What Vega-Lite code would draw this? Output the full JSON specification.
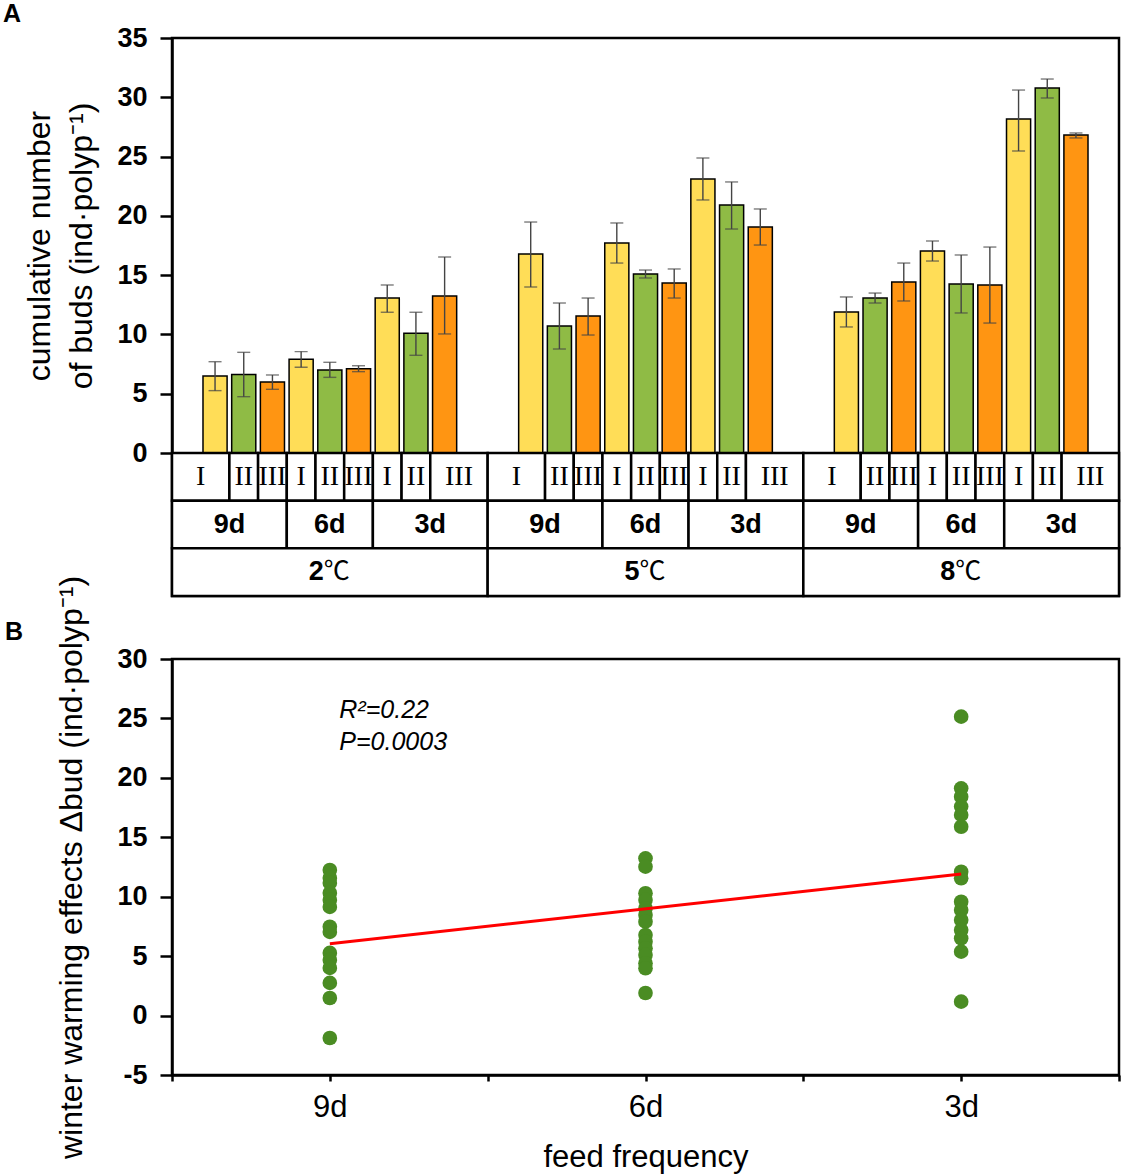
{
  "$schema": "https://vega.github.io/schema/vega-lite/v6.json",
  "background": "white",
  "padding": {"left": 1, "top": 0, "right": 0, "bottom": 0},
  "bounds": "flush",
  "spacing": 63,
  "config": {
    "view": {"stroke": "black", "strokeWidth": 2.5},
    "font": "Liberation Sans",
    "axis": {
      "grid": false,
      "domainColor": "black",
      "domainWidth": 2.5,
      "tickColor": "black",
      "tickWidth": 2.5,
      "labelColor": "black",
      "titleColor": "black",
      "labelFont": "Liberation Sans",
      "titleFont": "Liberation Sans",
      "titleFontWeight": "normal"
    },
    "title": {"font": "Liberation Sans", "color": "black"}
  },
  "datasets": {
    "bars": [
      {"bar": "2-9d-I", "level": "I", "mean": 6.49, "lo": 5.26, "hi": 7.7},
      {"bar": "2-9d-II", "level": "II", "mean": 6.61, "lo": 4.75, "hi": 8.49},
      {"bar": "2-9d-III", "level": "III", "mean": 5.99, "lo": 5.37, "hi": 6.58},
      {"bar": "2-6d-I", "level": "I", "mean": 7.9, "lo": 7.23, "hi": 8.55},
      {"bar": "2-6d-II", "level": "II", "mean": 7.0, "lo": 6.38, "hi": 7.65},
      {"bar": "2-6d-III", "level": "III", "mean": 7.11, "lo": 6.86, "hi": 7.36},
      {"bar": "2-3d-I", "level": "I", "mean": 13.07, "lo": 11.87, "hi": 14.17},
      {"bar": "2-3d-II", "level": "II", "mean": 10.09, "lo": 8.24, "hi": 11.87},
      {"bar": "2-3d-III", "level": "III", "mean": 13.24, "lo": 10.04, "hi": 16.53},
      {"bar": "5-9d-I", "level": "I", "mean": 16.78, "lo": 14.0, "hi": 19.48},
      {"bar": "5-9d-II", "level": "II", "mean": 10.71, "lo": 8.77, "hi": 12.65},
      {"bar": "5-9d-III", "level": "III", "mean": 11.55, "lo": 9.95, "hi": 13.07},
      {"bar": "5-6d-I", "level": "I", "mean": 17.71, "lo": 16.02, "hi": 19.4},
      {"bar": "5-6d-II", "level": "II", "mean": 15.1, "lo": 14.76, "hi": 15.43},
      {"bar": "5-6d-III", "level": "III", "mean": 14.34, "lo": 13.07, "hi": 15.52},
      {"bar": "5-3d-I", "level": "I", "mean": 23.1, "lo": 21.34, "hi": 24.88},
      {"bar": "5-3d-II", "level": "II", "mean": 20.92, "lo": 18.89, "hi": 22.86},
      {"bar": "5-3d-III", "level": "III", "mean": 19.06, "lo": 17.54, "hi": 20.58},
      {"bar": "8-9d-I", "level": "I", "mean": 11.89, "lo": 10.63, "hi": 13.16},
      {"bar": "8-9d-II", "level": "II", "mean": 13.07, "lo": 12.65, "hi": 13.49},
      {"bar": "8-9d-III", "level": "III", "mean": 14.42, "lo": 12.82, "hi": 16.02},
      {"bar": "8-6d-I", "level": "I", "mean": 17.04, "lo": 16.19, "hi": 17.88},
      {"bar": "8-6d-II", "level": "II", "mean": 14.25, "lo": 11.81, "hi": 16.7},
      {"bar": "8-6d-III", "level": "III", "mean": 14.17, "lo": 10.96, "hi": 17.37},
      {"bar": "8-3d-I", "level": "I", "mean": 28.17, "lo": 25.47, "hi": 30.61},
      {"bar": "8-3d-II", "level": "II", "mean": 30.78, "lo": 29.94, "hi": 31.54},
      {"bar": "8-3d-III", "level": "III", "mean": 26.82, "lo": 26.57, "hi": 26.99}
    ],
    "cells": [
      {"row": "level", "label": "I", "from": 0, "to": 2, "mid": 1},
      {"row": "level", "label": "II", "from": 2, "to": 3, "mid": 2.5},
      {"row": "level", "label": "III", "from": 3, "to": 4, "mid": 3.5},
      {"row": "level", "label": "I", "from": 4, "to": 5, "mid": 4.5},
      {"row": "level", "label": "II", "from": 5, "to": 6, "mid": 5.5},
      {"row": "level", "label": "III", "from": 6, "to": 7, "mid": 6.5},
      {"row": "level", "label": "I", "from": 7, "to": 8, "mid": 7.5},
      {"row": "level", "label": "II", "from": 8, "to": 9, "mid": 8.5},
      {"row": "level", "label": "III", "from": 9, "to": 11, "mid": 10},
      {"row": "level", "label": "I", "from": 11, "to": 13, "mid": 12},
      {"row": "level", "label": "II", "from": 13, "to": 14, "mid": 13.5},
      {"row": "level", "label": "III", "from": 14, "to": 15, "mid": 14.5},
      {"row": "level", "label": "I", "from": 15, "to": 16, "mid": 15.5},
      {"row": "level", "label": "II", "from": 16, "to": 17, "mid": 16.5},
      {"row": "level", "label": "III", "from": 17, "to": 18, "mid": 17.5},
      {"row": "level", "label": "I", "from": 18, "to": 19, "mid": 18.5},
      {"row": "level", "label": "II", "from": 19, "to": 20, "mid": 19.5},
      {"row": "level", "label": "III", "from": 20, "to": 22, "mid": 21},
      {"row": "level", "label": "I", "from": 22, "to": 24, "mid": 23},
      {"row": "level", "label": "II", "from": 24, "to": 25, "mid": 24.5},
      {"row": "level", "label": "III", "from": 25, "to": 26, "mid": 25.5},
      {"row": "level", "label": "I", "from": 26, "to": 27, "mid": 26.5},
      {"row": "level", "label": "II", "from": 27, "to": 28, "mid": 27.5},
      {"row": "level", "label": "III", "from": 28, "to": 29, "mid": 28.5},
      {"row": "level", "label": "I", "from": 29, "to": 30, "mid": 29.5},
      {"row": "level", "label": "II", "from": 30, "to": 31, "mid": 30.5},
      {"row": "level", "label": "III", "from": 31, "to": 33, "mid": 32},
      {"row": "feed", "label": "9d", "from": 0, "to": 4, "mid": 2},
      {"row": "feed", "label": "6d", "from": 4, "to": 7, "mid": 5.5},
      {"row": "feed", "label": "3d", "from": 7, "to": 11, "mid": 9},
      {"row": "feed", "label": "9d", "from": 11, "to": 15, "mid": 13},
      {"row": "feed", "label": "6d", "from": 15, "to": 18, "mid": 16.5},
      {"row": "feed", "label": "3d", "from": 18, "to": 22, "mid": 20},
      {"row": "feed", "label": "9d", "from": 22, "to": 26, "mid": 24},
      {"row": "feed", "label": "6d", "from": 26, "to": 29, "mid": 27.5},
      {"row": "feed", "label": "3d", "from": 29, "to": 33, "mid": 31},
      {"row": "temp", "label": "2", "from": 0, "to": 11, "mid": 5.5},
      {"row": "temp", "label": "5", "from": 11, "to": 22, "mid": 16.5},
      {"row": "temp", "label": "8", "from": 22, "to": 33, "mid": 27.5}
    ],
    "points": [
      {"days": 9, "delta": 12.25}, {"days": 9, "delta": 11.58}, {"days": 9, "delta": 11.16},
      {"days": 9, "delta": 10.32}, {"days": 9, "delta": 9.73}, {"days": 9, "delta": 9.14},
      {"days": 9, "delta": 7.47}, {"days": 9, "delta": 7.04}, {"days": 9, "delta": 5.27},
      {"days": 9, "delta": 4.68}, {"days": 9, "delta": 4.01}, {"days": 9, "delta": 2.75},
      {"days": 9, "delta": 1.48}, {"days": 9, "delta": -1.89},
      {"days": 6, "delta": 13.23}, {"days": 6, "delta": 12.53}, {"days": 6, "delta": 10.29},
      {"days": 6, "delta": 9.73}, {"days": 6, "delta": 9.03}, {"days": 6, "delta": 8.46},
      {"days": 6, "delta": 7.9}, {"days": 6, "delta": 6.78}, {"days": 6, "delta": 6.22},
      {"days": 6, "delta": 5.66}, {"days": 6, "delta": 5.1}, {"days": 6, "delta": 4.4},
      {"days": 6, "delta": 3.98}, {"days": 6, "delta": 1.9},
      {"days": 3, "delta": 25.15}, {"days": 3, "delta": 19.12}, {"days": 3, "delta": 18.42},
      {"days": 3, "delta": 17.58}, {"days": 3, "delta": 16.88}, {"days": 3, "delta": 15.89},
      {"days": 3, "delta": 12.1}, {"days": 3, "delta": 11.55}, {"days": 3, "delta": 9.58},
      {"days": 3, "delta": 8.88}, {"days": 3, "delta": 8.04}, {"days": 3, "delta": 7.2},
      {"days": 3, "delta": 6.5}, {"days": 3, "delta": 5.38}, {"days": 3, "delta": 1.17}
    ],
    "fit": [
      {"days": 9, "delta": 6.05},
      {"days": 3, "delta": 11.92}
    ],
    "notes": [
      {"r2": "R²=0.22", "p": "P=0.0003"}
    ]
  },
  "vconcat": [
    {
      "width": 947,
      "height": 558,
      "title": {"text": "A", "anchor": "start", "frame": "bounds", "fontSize": 25, "fontWeight": "bold", "dx": -21, "offset": -3},
      "layer": [
        {
          "data": {"name": "bars"},
          "encoding": {
            "x": {
              "field": "bar",
              "type": "nominal",
              "sort": null,
              "axis": null,
              "scale": {
                "domain": [
                  "2a", "2-9d-I", "2-9d-II", "2-9d-III", "2-6d-I", "2-6d-II", "2-6d-III", "2-3d-I", "2-3d-II", "2-3d-III", "2b",
                  "5a", "5-9d-I", "5-9d-II", "5-9d-III", "5-6d-I", "5-6d-II", "5-6d-III", "5-3d-I", "5-3d-II", "5-3d-III", "5b",
                  "8a", "8-9d-I", "8-9d-II", "8-9d-III", "8-6d-I", "8-6d-II", "8-6d-III", "8-3d-I", "8-3d-II", "8-3d-III", "8b"
                ],
                "paddingInner": 0.16,
                "paddingOuter": 0.08
              }
            }
          },
          "layer": [
            {
              "mark": {"type": "bar", "stroke": "black", "strokeWidth": 1.5},
              "encoding": {
                "y": {
                  "field": "mean",
                  "type": "quantitative",
                  "scale": {"domain": [0, 35], "range": [415, 0], "nice": false},
                  "axis": {
                    "values": [0, 2.5, 5, 7.5, 10, 12.5, 15, 17.5, 20, 22.5, 25, 27.5, 30, 32.5, 35],
                    "labelExpr": "datum.value % 5 === 0 ? datum.label : ''",
                    "tickSize": {"condition": {"test": "datum.value % 5 === 0", "value": 12}, "value": 6},
                    "labelFontSize": 27,
                    "labelFontWeight": "bold",
                    "labelPadding": 13,
                    "title": ["cumulative number", "of buds (ind·polyp⁻¹)"],
                    "titleFontSize": 32,
                    "titleLineHeight": 42,
                    "titlePadding": 18
                  }
                },
                "color": {
                  "field": "level",
                  "type": "nominal",
                  "scale": {"domain": ["I", "II", "III"], "range": ["#FFDD57", "#8FBB45", "#FF9512"]},
                  "legend": null
                }
              }
            },
            {
              "mark": {"type": "rule", "color": "#444444", "strokeWidth": 1.4},
              "encoding": {
                "y": {"field": "lo", "type": "quantitative"},
                "y2": {"field": "hi"}
              }
            },
            {
              "mark": {"type": "tick", "color": "#444444", "size": 13, "thickness": 1.4},
              "encoding": {"y": {"field": "lo", "type": "quantitative"}}
            },
            {
              "mark": {"type": "tick", "color": "#444444", "size": 13, "thickness": 1.4},
              "encoding": {"y": {"field": "hi", "type": "quantitative"}}
            }
          ]
        },
        {
          "data": {"name": "cells"},
          "encoding": {
            "y": {
              "field": "row",
              "type": "nominal",
              "scale": {"domain": ["level", "feed", "temp"], "range": [415, 558], "paddingInner": 0, "paddingOuter": 0},
              "axis": null
            }
          },
          "layer": [
            {
              "mark": {"type": "rect", "fill": "white", "stroke": "black", "strokeWidth": 2.5},
              "encoding": {
                "x": {"field": "from", "type": "quantitative", "scale": {"domain": [0, 33], "nice": false, "zero": false}, "axis": null},
                "x2": {"field": "to"}
              }
            },
            {
              "transform": [{"filter": "datum.row === 'level'"}],
              "mark": {"type": "text", "font": "Liberation Serif", "fontSize": 28, "baseline": "middle", "color": "black"},
              "encoding": {"x": {"field": "mid", "type": "quantitative"}, "text": {"field": "label"}}
            },
            {
              "transform": [{"filter": "datum.row === 'feed'"}],
              "mark": {"type": "text", "fontSize": 27, "fontWeight": "bold", "baseline": "middle", "color": "black"},
              "encoding": {"x": {"field": "mid", "type": "quantitative"}, "text": {"field": "label"}}
            },
            {
              "transform": [{"filter": "datum.row === 'temp'"}],
              "mark": {"type": "text", "fontSize": 27, "fontWeight": "bold", "baseline": "middle", "align": "right", "dx": -6, "color": "black"},
              "encoding": {"x": {"field": "mid", "type": "quantitative"}, "text": {"field": "label"}}
            },
            {
              "transform": [{"filter": "datum.row === 'temp'"}],
              "mark": {"type": "text", "font": "Noto Sans CJK SC", "fontSize": 26, "fontWeight": "normal", "baseline": "middle", "align": "left", "dx": -6, "color": "black"},
              "encoding": {"x": {"field": "mid", "type": "quantitative"}, "text": {"value": "℃"}}
            }
          ]
        }
      ],
      "resolve": {"scale": {"x": "independent", "y": "independent"}, "axis": {"x": "independent", "y": "independent"}}
    },
    {
      "width": 947,
      "height": 416,
      "title": {"text": "B", "anchor": "start", "frame": "bounds", "fontSize": 25, "fontWeight": "bold", "dx": -51, "offset": -70},
      "layer": [
        {
          "data": {"name": "points"},
          "mark": {"type": "circle", "size": 215, "color": "#4A8C23", "opacity": 1},
          "encoding": {
            "x": {
              "field": "days",
              "type": "quantitative",
              "scale": {"domain": [1.5, 10.5], "reverse": true, "nice": false, "zero": false},
              "axis": {
                "values": [1.5, 3, 4.5, 6, 7.5, 9, 10.5],
                "labelExpr": "datum.value % 3 === 0 ? datum.value + 'd' : ''",
                "tickSize": 6,
                "labelFontSize": 31,
                "labelPadding": 11,
                "title": "feed frequency",
                "titleFontSize": 31,
                "titlePadding": 20
              }
            },
            "y": {
              "field": "delta",
              "type": "quantitative",
              "scale": {"domain": [-5, 30], "nice": false, "zero": false},
              "axis": {
                "values": [-5, -2.5, 0, 2.5, 5, 7.5, 10, 12.5, 15, 17.5, 20, 22.5, 25, 27.5, 30],
                "labelExpr": "datum.value % 5 === 0 ? datum.value + '' : ''",
                "tickSize": {"condition": {"test": "datum.value % 5 === 0", "value": 12}, "value": 6},
                "labelFontSize": 27,
                "labelFontWeight": "bold",
                "labelPadding": 13,
                "title": "winter warming effects Δbud (ind·polyp⁻¹)",
                "titleFontSize": 32,
                "titlePadding": 28
              }
            }
          }
        },
        {
          "data": {"name": "fit"},
          "mark": {"type": "line", "color": "#FF0000", "strokeWidth": 3},
          "encoding": {
            "x": {"field": "days", "type": "quantitative"},
            "y": {"field": "delta", "type": "quantitative"}
          }
        },
        {
          "data": {"name": "notes"},
          "mark": {"type": "text", "align": "left", "baseline": "middle", "fontStyle": "italic", "fontSize": 25, "color": "black"},
          "encoding": {
            "x": {"datum": 8.91},
            "y": {"datum": 25.7},
            "text": {"field": "r2"}
          }
        },
        {
          "data": {"name": "notes"},
          "mark": {"type": "text", "align": "left", "baseline": "middle", "fontStyle": "italic", "fontSize": 25, "color": "black"},
          "encoding": {
            "x": {"datum": 8.91},
            "y": {"datum": 23.0},
            "text": {"field": "p"}
          }
        }
      ]
    }
  ]
}
